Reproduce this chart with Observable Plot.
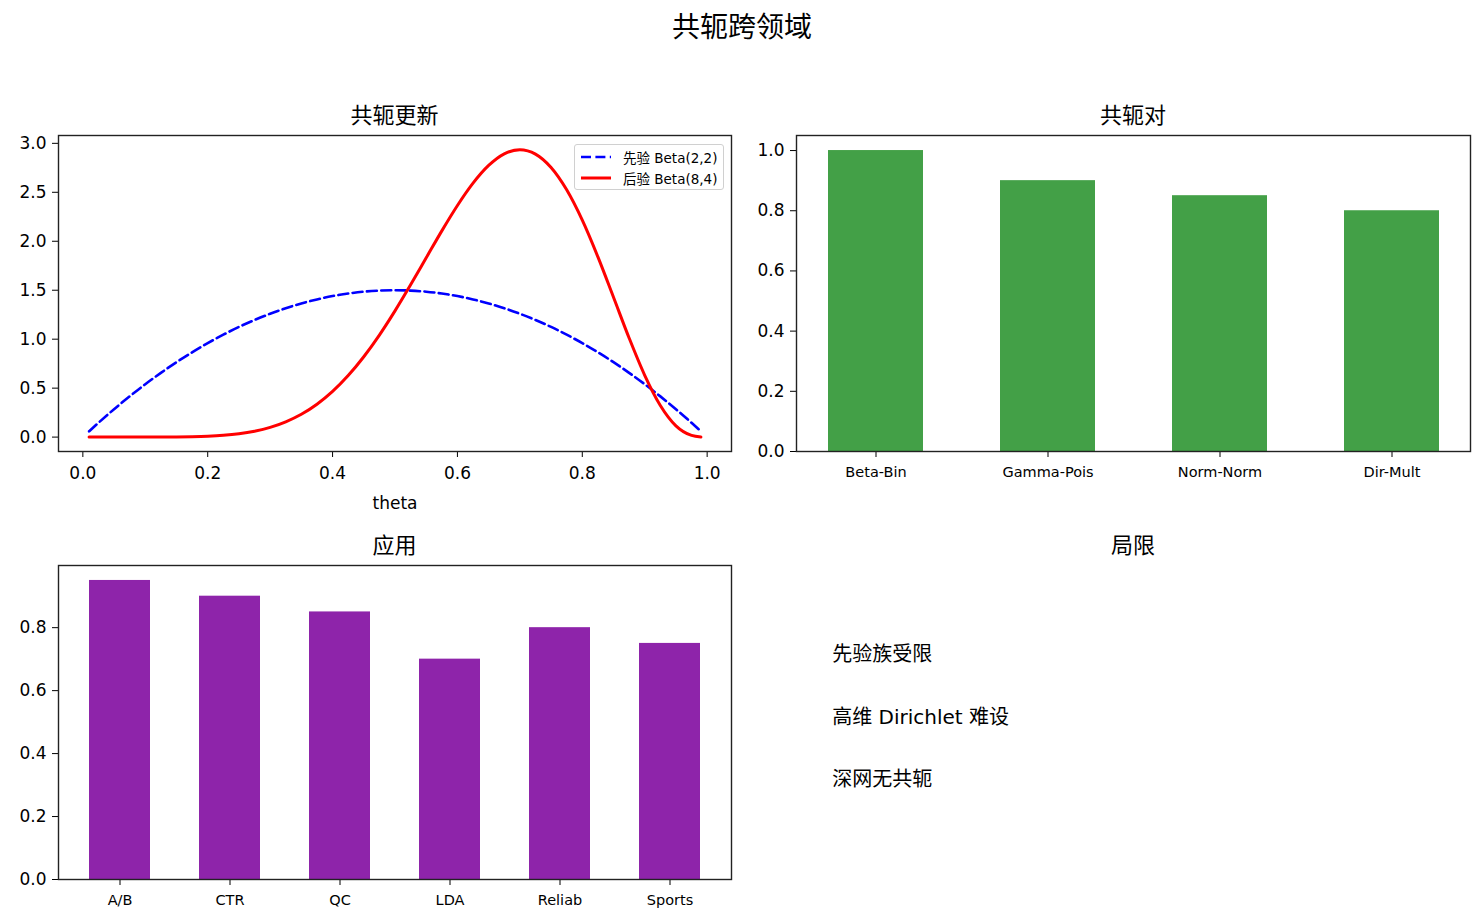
<!DOCTYPE html>
<html><head><meta charset="utf-8">
<script src="https://cdn.jsdelivr.net/npm/d3@7"></script>
<script src="https://cdn.jsdelivr.net/npm/@observablehq/plot@0.6"></script>
<style>
body{margin:0;background:#fff;}
#root{position:relative;width:1484px;height:924px;background:#fff;font-family:"DejaVu Sans","Noto Sans CJK SC",sans-serif;color:#000;overflow:hidden;}
.t{position:absolute;text-align:center;white-space:nowrap;line-height:1;}
.legend{position:absolute;left:574px;top:144px;width:150px;height:46px;box-sizing:border-box;border:1px solid #d0d0d0;border-radius:3px;background:rgba(255,255,255,0.85);font-size:13.5px;}
.legend .row{position:absolute;left:0;height:20px;display:flex;align-items:center;white-space:nowrap;}
.legend svg{margin-left:6px;margin-right:12px;}
</style></head><body><div id="root"></div>
<script>
// ---- data ----
const theta = [0.01,0.025,0.05,0.075,0.1,0.125,0.15,0.175,0.2,0.225,0.25,0.275,0.3,0.325,0.35,0.375,0.4,0.425,0.45,0.475,0.5,0.525,0.55,0.575,0.6,0.625,0.65,0.675,0.7,0.725,0.75,0.775,0.8,0.825,0.85,0.875,0.9,0.925,0.95,0.975,0.99];
const priorPdf = [0.059,0.146,0.285,0.416,0.54,0.656,0.765,0.866,0.96,1.046,1.125,1.196,1.26,1.316,1.365,1.406,1.44,1.466,1.485,1.496,1.5,1.496,1.485,1.466,1.44,1.406,1.365,1.316,1.26,1.196,1.125,1.046,0.96,0.866,0.765,0.656,0.54,0.416,0.285,0.146,0.059];
const posteriorPdf = [0,0,0,0.00001,0.0001,0.0004,0.0014,0.0037,0.0087,0.018,0.034,0.060,0.099,0.156,0.233,0.336,0.467,0.629,0.821,1.042,1.289,1.555,1.831,2.106,2.365,2.593,2.774,2.893,2.935,2.890,2.753,2.525,2.215,1.840,1.428,1.012,0.631,0.323,0.115,0.017,0.001];
const pairs = ["Beta-Bin","Gamma-Pois","Norm-Norm","Dir-Mult"];
const pairScores = [1.0,0.9,0.85,0.8];
const apps = ["A/B","CTR","QC","LDA","Reliab","Sports"];
const appScores = [0.95,0.9,0.85,0.7,0.8,0.75];
const limits = ["先验族受限","高维 Dirichlet 难设","深网无共轭"];
const thetaTicks = [0,0.2,0.4,0.6,0.8,1.0];
const densityTicks = [0,0.5,1.0,1.5,2.0,2.5,3.0];
const pairTicks = [0,0.2,0.4,0.6,0.8,1.0];
const appTicks = [0,0.2,0.4,0.6,0.8];
const labels = {main:"共轭跨领域", a:"共轭更新", b:"共轭对", c:"应用", d:"局限", prior:"先验 Beta(2,2)", post:"后验 Beta(8,4)", xlab:"theta"};

const root = document.getElementById("root");
const FONT = '"DejaVu Sans","Noto Sans CJK SC",sans-serif';
const f1 = d3.format(".1f");

function place(svg, left, top) {
  svg.style.position = "absolute";
  svg.style.left = left + "px";
  svg.style.top = top + "px";
  svg.style.overflow = "visible";
  svg.style.background = "transparent";
  svg.style.fontFamily = FONT;
  root.appendChild(svg);
}
function title(text, left, width, top, size) {
  const d = document.createElement("div");
  d.className = "t";
  d.textContent = text;
  d.style.left = left + "px"; d.style.width = width + "px"; d.style.top = top + "px";
  d.style.fontSize = size + "px";
  root.appendChild(d);
}

title(labels.main, 0, 1484, 14, 28);
title(labels.a, 58, 673, 105, 22);
title(labels.b, 796, 674, 105, 22);
title(labels.c, 58, 673, 535, 22);
title(labels.d, 796, 674, 535, 22);

// ---- top-left: line chart ----
const curves = theta.map((t, i) => ({theta: t, prior: priorPdf[i], post: posteriorPdf[i]}));
place(Plot.plot({
  width: 740, height: 420,
  marginLeft: 58, marginRight: 9, marginTop: 35, marginBottom: 69,
  x: {domain: [-0.039, 1.039]},
  y: {domain: [-0.147, 3.08]},
  marks: [
    Plot.line(curves, {x: "theta", y: "prior", stroke: "#0000ff", strokeWidth: 2.6, strokeDasharray: "10,4.4", curve: "monotone-x"}),
    Plot.line(curves, {x: "theta", y: "post", stroke: "#ff0000", strokeWidth: 3, curve: "monotone-x"}),
    Plot.axisX({ticks: thetaTicks, tickFormat: f1, tickSize: 6, tickPadding: 9, fontSize: 17, label: labels.xlab, labelAnchor: "center", labelArrow: "none", labelOffset: 57}),
    Plot.axisY({ticks: densityTicks, tickFormat: f1, tickSize: 6, tickPadding: 6, fontSize: 17, label: null}),
    Plot.frame({stroke: "#222", strokeWidth: 1.4})
  ]
}), 0, 100);

// legend
const lg = document.createElement("div");
lg.className = "legend";
lg.innerHTML =
  '<div class="row" style="top:2px"><svg width="30" height="6"><line x1="0" y1="3" x2="30" y2="3" stroke="#0000ff" stroke-width="2.6" stroke-dasharray="10,4.4"/></svg><span>' + labels.prior + '</span></div>' +
  '<div class="row" style="top:23px"><svg width="30" height="6"><line x1="0" y1="3" x2="30" y2="3" stroke="#ff0000" stroke-width="3"/></svg><span>' + labels.post + '</span></div>';
root.appendChild(lg);

// ---- top-right: conjugate pairs bars ----
const pairData = pairs.map((p, i) => ({name: p, v: pairScores[i]}));
place(Plot.plot({
  width: 744, height: 420,
  marginLeft: 56, marginRight: 14, marginTop: 35, marginBottom: 69,
  x: {type: "band", domain: pairs, paddingInner: 0.45, paddingOuter: 0.1775},
  y: {domain: [0, 1.05]},
  marks: [
    Plot.barY(pairData, {x: "name", y: "v", fill: "#43A047"}),
    Plot.axisX({tickSize: 6, tickPadding: 9, fontSize: 14.5, label: null}),
    Plot.axisY({ticks: pairTicks, tickFormat: f1, tickSize: 6, tickPadding: 6, fontSize: 17, label: null}),
    Plot.frame({stroke: "#222", strokeWidth: 1.4})
  ]
}), 740, 100);

// ---- bottom-left: applications bars ----
const appData = apps.map((a, i) => ({name: a, v: appScores[i]}));
place(Plot.plot({
  width: 740, height: 394,
  marginLeft: 58, marginRight: 9, marginTop: 35, marginBottom: 45,
  x: {type: "band", domain: apps, paddingInner: 0.45, paddingOuter: 0.2775},
  y: {domain: [0, 0.9975]},
  marks: [
    Plot.barY(appData, {x: "name", y: "v", fill: "#8E24AA"}),
    Plot.axisX({tickSize: 6, tickPadding: 9, fontSize: 14.5, label: null}),
    Plot.axisY({ticks: appTicks, tickFormat: f1, tickSize: 6, tickPadding: 6, fontSize: 17, label: null}),
    Plot.frame({stroke: "#222", strokeWidth: 1.4})
  ]
}), 0, 530);

// ---- bottom-right: limitations text ----
place(Plot.plot({
  width: 744, height: 394,
  marginLeft: 56, marginRight: 14, marginTop: 35, marginBottom: 45,
  x: {domain: [0, 1], axis: null},
  y: {domain: [0, 1], axis: null},
  marks: [
    Plot.text(limits, {x: () => 0.05, y: (d, i) => 0.7 - 0.2 * i, text: d => d, textAnchor: "start", lineAnchor: "bottom", dx: 2, dy: 1, fontSize: 20, fill: "#000"})
  ]
}), 740, 530);
</script></body></html>
